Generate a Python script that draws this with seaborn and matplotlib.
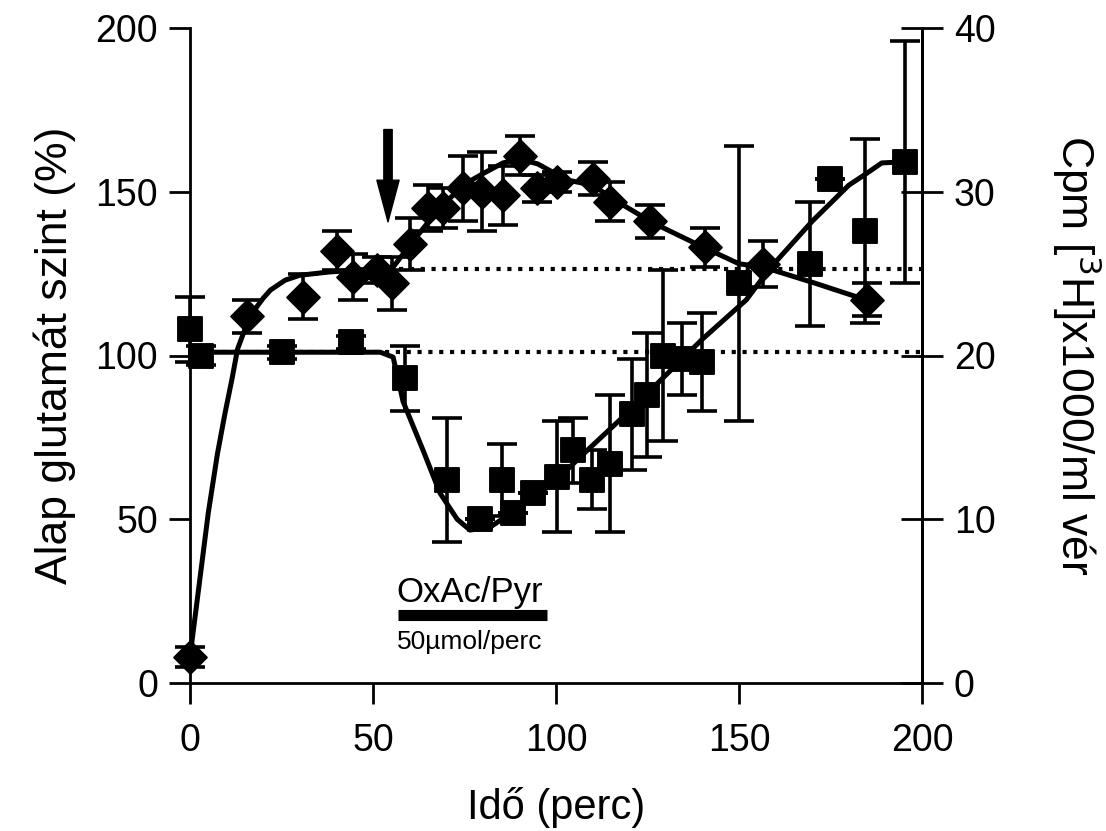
import matplotlib
matplotlib.use("Agg")
import matplotlib.pyplot as plt
import seaborn as sns
import pandas as pd

# diamonds (left-axis units)
dia_x = [0, 15.6, 30.9, 40.2, 44.5, 51, 55.2, 60.1, 65, 69.1, 74.6, 79.8, 85.5,
         90.2, 94.8, 100.3, 110.1, 114.8, 125.7, 140.7, 156.6, 185]
dia_y = [8, 112, 118, 132, 124, 126, 122, 134, 145, 145, 151, 150, 149,
         161, 151, 153, 154, 147, 141, 133, 128, 117]
dia_err = [3, 5, 7, 6, 7, 4, 8, 8, 7, 6, 10, 12, 9,
           6, 4, 3, 5, 6, 5, 6, 7, 5]

# squares
sq_x = [0, 3, 25, 44, 58.7, 70.2, 79.2, 85.2, 88.3, 93.7, 100.3, 104.6, 109.8,
        114.8, 120.8, 124.9, 129.2, 134.4, 139.9, 150, 169.4, 174.9, 184.4, 195.4]
sq_y = [108, 100, 101, 104, 93, 62, 50, 62, 52, 58, 63, 71, 62,
        67, 82, 88, 100, 99, 98, 122, 128, 154, 138, 159]
sq_err = [10, 3, 2, 2, 10, 19, 0, 11, 0, 0, 17, 10, 9,
          21, 17, 19, 26, 11, 15, 42, 19, 0, 28, 37]

# fitted curves
dia_fit_x = [0, 2.5, 5, 7.5, 9.5, 11.5, 13, 15, 17, 20, 22, 26, 30, 38, 45, 55.5,
             61, 66, 70, 75.6, 80, 85.5, 90, 95, 103, 110, 117.5, 126.5, 138.5,
             150, 156.6, 171, 186]
dia_fit_y = [8, 30, 52, 70, 82, 93, 102, 108, 113, 117.5, 120, 123, 124.5, 125.5,
             126, 127, 135, 142, 147, 152.7, 155.5, 158.8, 160, 158.5, 153.6, 152,
             146.5, 140.5, 134, 128, 127, 122, 116.5]

sq_fit_x = [0, 20, 40, 52, 55.5, 58.2, 63.7, 68.3, 73, 76.5, 82, 90.2, 99.2, 108.5,
            120, 130, 140, 152, 158.5, 170, 180, 185, 189, 192.6]
sq_fit_y = [101, 101, 101, 101, 99.5, 86, 71, 58, 50, 46.7, 47.6, 53.7, 61, 71,
            83, 94, 105, 117, 126.7, 141, 152, 155.7, 158.8, 159]

ref_low = 101
ref_high = 126.5

sns.set_style("ticks")
plt.rcParams["font.family"] = ["Liberation Sans", "DejaVu Sans"]
for key in ["text.color", "axes.labelcolor", "xtick.color", "ytick.color", "axes.edgecolor"]:
    plt.rcParams[key] = "black"

fig = plt.figure(figsize=(11.06, 8.31), dpi=100)
ax = fig.add_axes([190 / 1106, 1 - 683 / 831, (922 - 190) / 1106, (683 - 28) / 831])

dia = pd.DataFrame({"t": dia_x, "v": dia_y, "e": dia_err})
sq = pd.DataFrame({"t": sq_x, "v": sq_y, "e": sq_err})

# reference dotted lines
ax.plot([0, 200], [ref_low, ref_low], ls=(0, (1, 1.6)), color="black", lw=3, zorder=1)
ax.plot([57, 200], [ref_high, ref_high], ls=(0, (1, 1.6)), color="black", lw=3, zorder=1)

sns.lineplot(x=dia_fit_x, y=dia_fit_y, color="black", lw=3.6, sort=False,
             estimator=None, ax=ax, zorder=2)
sns.lineplot(x=sq_fit_x, y=sq_fit_y, color="black", lw=3.6, sort=False,
             estimator=None, ax=ax, zorder=2)

ax.errorbar(dia["t"], dia["v"], yerr=dia["e"], fmt="none", ecolor="black",
            elinewidth=2.6, capsize=11, capthick=2.6, zorder=3, clip_on=False)
ax.errorbar(sq["t"], sq["v"], yerr=sq["e"], fmt="none", ecolor="black",
            elinewidth=2.6, capsize=11, capthick=2.6, zorder=3, clip_on=False)

sns.scatterplot(data=dia, x="t", y="v", marker="D", s=280, color="black",
                edgecolor="black", ax=ax, zorder=4, clip_on=False)
sns.scatterplot(data=sq, x="t", y="v", marker="s", s=290, color="black",
                edgecolor="black", ax=ax, zorder=4, clip_on=False)

ax.set_xlim(0, 200)
ax.set_ylim(0, 200)
ax.set_xticks([0, 50, 100, 150, 200])
ax.set_yticks([0, 50, 100, 150, 200])
ax.tick_params(axis="both", labelsize=27, width=2, length=15, direction="out", pad=8)
ax.tick_params(axis="x", pad=14)
for side in ["left", "bottom", "right"]:
    ax.spines[side].set_linewidth(2)
ax.spines["top"].set_visible(False)
ax.set_xlabel("Idő (perc)", fontsize=30, labelpad=20)
ax.set_ylabel("Alap glutamát szint (%)", fontsize=32, labelpad=14)

ax2 = ax.twinx()
ax2.set_ylim(0, 40)
ax2.set_yticks([0, 10, 20, 30, 40])
ax2.tick_params(axis="y", labelsize=27, width=2, length=30, direction="inout", pad=8)
for side in ["left", "bottom", "right", "top"]:
    ax2.spines[side].set_visible(side == "right")
ax2.spines["right"].set_linewidth(2)
ax2.set_ylabel("Cpm [$^3$H]x1000/ml vér", fontsize=32, rotation=270, labelpad=78)

# arrow marking the start of infusion
ax.annotate("", xy=(54.1, 140.8), xytext=(54.1, 169),
            arrowprops=dict(facecolor="black", edgecolor="black", width=6,
                            headwidth=16, headlength=30, shrink=0))

# infusion bar
ax.plot([56.7, 97.5], [20.9, 20.9], color="black", lw=8, solid_capstyle="butt")
ax.text(56.5, 24.7, "OxAc/Pyr", fontsize=25, ha="left", va="baseline")
ax.text(56.5, 16.3, "50µmol/perc", fontsize=19, ha="left", va="top")

fig.savefig("out.png", dpi=100)
